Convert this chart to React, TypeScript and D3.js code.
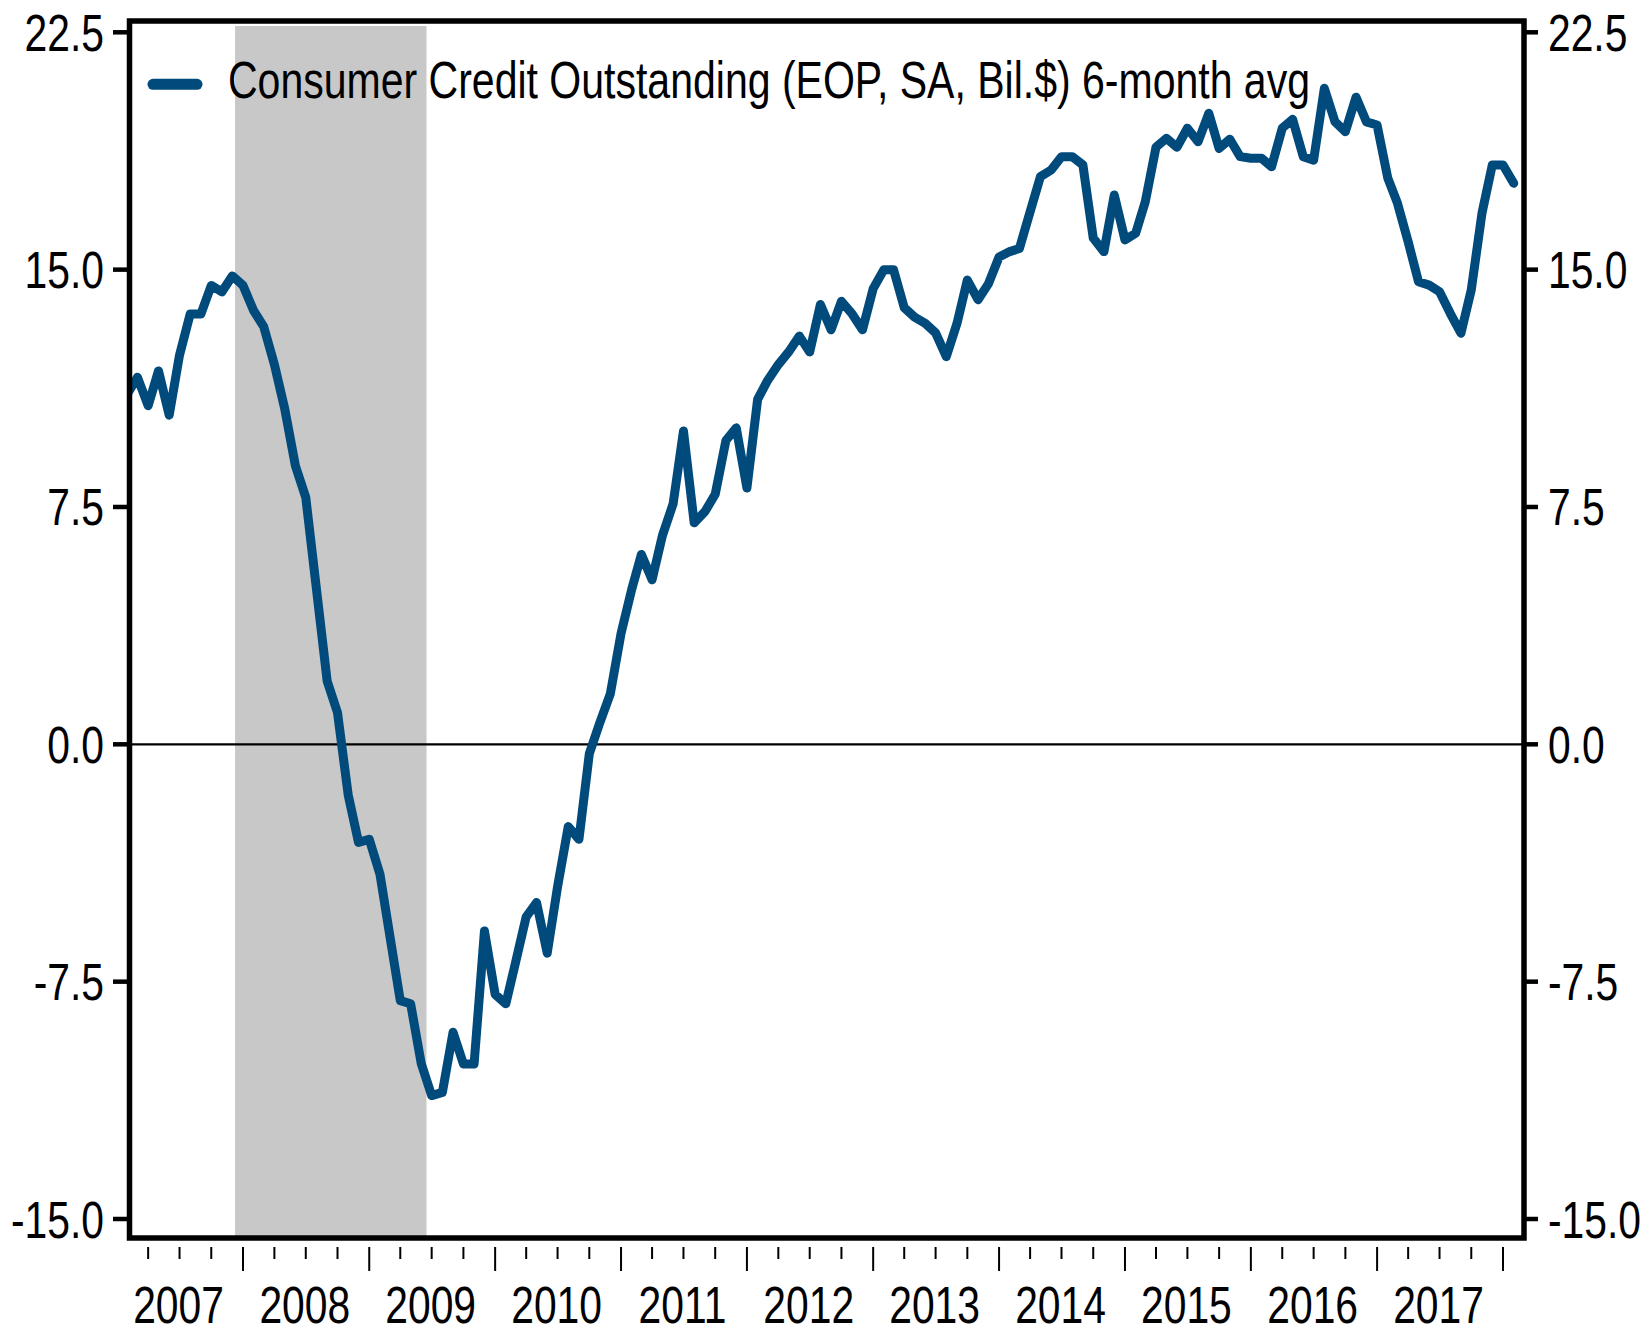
import React from "react";
import * as d3 from "d3";

const seriesName = "Consumer Credit Outstanding (EOP, SA, Bil.$) 6-month avg";
const firstMonth = "2007-02-01";
const values: number[] = [
  11.1, 11.6, 10.7, 11.8, 10.4, 12.3, 13.6, 13.6, 14.5, 14.3, 14.8,
  14.5, 13.7, 13.2, 12.0, 10.6, 8.8, 7.8, 4.9, 2.0, 1.0, -1.6, -3.1,
  -3.0, -4.1, -6.0, -8.1, -8.2, -10.1, -11.1, -11.0, -9.1, -10.1, -10.1, -5.9,
  -7.9, -8.2, -6.9, -5.45, -5.0, -6.6, -4.5, -2.6, -3.0, -0.3, 0.7, 1.6,
  3.5, 4.9, 6.0, 5.2, 6.6, 7.6, 9.9, 7.0, 7.35, 7.9, 9.6, 10.0,
  8.1, 10.9, 11.5, 12.0, 12.4, 12.9, 12.4, 13.9, 13.1, 14.0, 13.6, 13.1,
  14.4, 15.0, 15.0, 13.8, 13.5, 13.3, 13.0, 12.25, 13.3, 14.67, 14.05, 14.55,
  15.4, 15.57, 15.67, 16.83, 17.94, 18.15, 18.57, 18.57, 18.31, 16.0, 15.57, 17.36,
  15.94, 16.15, 17.15, 18.87, 19.15, 18.87, 19.47, 19.04, 19.94, 18.83, 19.12, 18.57,
  18.52, 18.52, 18.25, 19.47, 19.75, 18.57, 18.46, 20.73, 19.67, 19.36, 20.45, 19.67,
  19.57, 17.89, 17.1, 15.88, 14.62, 14.51, 14.3, 13.62, 12.99, 14.36, 16.78, 18.31,
  18.31, 17.73,
];
const recessionStart = "2007-12-09";
const recessionEnd = "2009-06-16";
const yTicks = [-15, -7.5, 0, 7.5, 15, 22.5];
const yearLabels = ["2007", "2008", "2009", "2010", "2011", "2012", "2013", "2014", "2015", "2016", "2017"];

const W = 1643;
const H = 1328;
const left = 129.5;
const right = 1524;
const top = 21;
const bottom = 1238;
const FONT = "'Liberation Sans', Arial, sans-serif";
const BLUE = "#004a7c";
const SX = 0.8;

export default function App() {
  const parse = d3.timeParse("%Y-%m-%d");
  const start = parse(firstMonth) as Date;
  const dates = values.map((_, i) => d3.timeMonth.offset(start, i));
  const data = values.map((v, i) => ({ date: dates[i], value: v }));

  const x = d3
    .scaleTime()
    .domain([new Date(2008, 0, 1), new Date(2018, 0, 1)])
    .range([243, 1503]);
  const y = d3.scaleLinear().domain([-15, 22.5]).range([1219, 32.3]);

  const line = d3
    .line<{ date: Date; value: number }>()
    .x((d) => x(d.date))
    .y((d) => y(d.value));

  const x0 = x.invert(left);
  const x1 = x.invert(right);
  const quarters = d3.timeMonth.every(3)!.range(x0, x1).filter((d) => x(d) >= left && x(d) <= right);

  const rs = x(parse(recessionStart) as Date);
  const re = x(parse(recessionEnd) as Date);

  const label = (tx: number, ty: number, s: string, anchor: string, key: string) => (
    <text
      key={key}
      transform={`translate(${tx},${ty}) scale(${SX},1)`}
      textAnchor={anchor}
      fontFamily={FONT}
      fontSize={51}
      fill="#000"
    >
      {s}
    </text>
  );

  return (
    <svg width={W} height={H} style={{ position: "absolute", left: 0, top: 0, background: "#fff" }}>
      <defs>
        <clipPath id="plot">
          <rect x={left} y={top} width={right - left} height={bottom - top} />
        </clipPath>
      </defs>
      <rect x={0} y={0} width={W} height={H} fill="#fff" />
      <rect x={rs} y={26} width={re - rs} height={bottom - 26} fill="#c8c8c8" />
      <line x1={left} x2={right} y1={y(0)} y2={y(0)} stroke="#000" strokeWidth={2.2} />
      <g clipPath="url(#plot)">
        <path d={line(data) || ""} fill="none" stroke={BLUE} strokeWidth={9} strokeLinejoin="round" strokeLinecap="round" />
      </g>
      <rect x={left} y={top} width={right - left} height={bottom - top} fill="none" stroke="#000" strokeWidth={5.5} />
      {yTicks.map((t) => (
        <g key={t}>
          <line x1={113} x2={left} y1={y(t)} y2={y(t)} stroke="#000" strokeWidth={4.5} />
          <line x1={right} x2={1538} y1={y(t)} y2={y(t)} stroke="#000" strokeWidth={4.5} />
          {label(104, y(t) + 18.5, t.toFixed(1), "end", "l" + t)}
          {label(1548, y(t) + 18.5, t.toFixed(1), "start", "r" + t)}
        </g>
      ))}
      {quarters.map((d) => {
        const isYear = d.getMonth() === 0;
        return (
          <line
            key={d.toISOString()}
            x1={x(d)}
            x2={x(d)}
            y1={1247}
            y2={isYear ? 1271 : 1259}
            stroke="#000"
            strokeWidth={2}
          />
        );
      })}
      {yearLabels.map((yr) => label(x(new Date(+yr, 6, 1)) - 1, 1323, yr, "middle", yr))}
      <line x1={153} x2={197} y1={84.3} y2={84.3} stroke={BLUE} strokeWidth={11} strokeLinecap="round" />
      <text x={228} y={98} fontFamily={FONT} fontSize={52} fill="#000" textLength={1082} lengthAdjust="spacingAndGlyphs">
        {seriesName}
      </text>
    </svg>
  );
}
